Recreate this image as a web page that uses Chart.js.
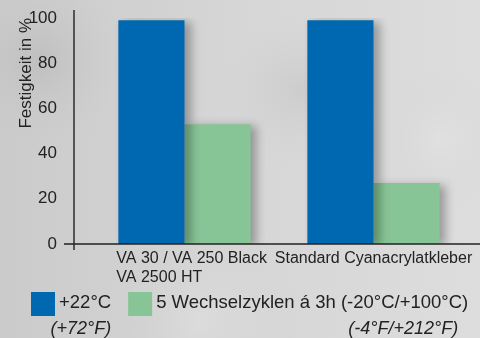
<!DOCTYPE html>
<html>
<head>
<meta charset="utf-8">
<script src="https://cdn.jsdelivr.net/npm/chart.js@4/dist/chart.umd.min.js"></script>
<style>
  html, body { margin: 0; padding: 0; background: #d3d3d3; }
  #wrap { width: 480px; height: 338px; position: relative; }
</style>
</head>
<body>
<div id="wrap"><canvas id="festigkeitChart"></canvas></div>
<script>
// Daten
var categories = [['VA 30 / VA 250 Black', 'VA 2500 HT'], 'Standard Cyanacrylatkleber'];
var seriesNames = ['+22°C', '5 Wechselzyklen á 3h (-20°C/+100°C)'];
var seriesNotes = ['(+72°F)', '(-4°F/+212°F)'];
var raumtemperatur = [99, 99];
var wechselzyklen = [53, 27];
var yTicks = [0, 20, 40, 60, 80, 100];
var colors = ['#0067b1', '#88c596'];

var FONT = '"Liberation Sans", Arial, Helvetica, sans-serif';

// Hintergrund (Beton-Look, grob)
var bgPlugin = {
    id: 'bg',
    beforeDraw: function (chart) {
        var c = chart.ctx, w = chart.width, h = chart.height;
        c.save();
        var g = c.createLinearGradient(0, 0, w, 0);
        g.addColorStop(0, '#cbcbcb');
        g.addColorStop(0.5, '#d6d6d6');
        g.addColorStop(1, '#dddddd');
        c.fillStyle = g;
        c.fillRect(0, 0, w, h);
        var spots = [[40, 60, 90, 'rgba(150,150,150,0.25)'], [300, 90, 80, 'rgba(160,160,160,0.2)'], [200, 320, 110, 'rgba(235,235,235,0.35)'], [440, 140, 70, 'rgba(235,235,235,0.3)']];
        spots.forEach(function (s) {
            var r = c.createRadialGradient(s[0], s[1], 0, s[0], s[1], s[2]);
            r.addColorStop(0, s[3]);
            r.addColorStop(1, 'rgba(200,200,200,0)');
            c.fillStyle = r;
            c.fillRect(0, 0, w, h);
        });
        c.restore();
    }
};

// Schatten hinter den Balken
var shadowPlugin = {
    id: 'shadow',
    beforeDatasetsDraw: function (chart) {
        var c = chart.ctx;
        c.save();
        c.shadowColor = 'rgba(0,0,0,0.3)';
        c.shadowBlur = 9;
        c.shadowOffsetX = 6;
        c.shadowOffsetY = 2;
    },
    afterDatasetsDraw: function (chart) {
        chart.ctx.restore();
    }
};

// Achsenlinien, x-Beschriftung und Legende
var decoPlugin = {
    id: 'deco',
    afterDraw: function (chart) {
        var c = chart.ctx;
        var x = chart.scales.x, y = chart.scales.y;
        var axisX = chart.chartArea.left - 16;
        var zeroY = y.getPixelForValue(0);
        c.save();
        c.strokeStyle = '#222';
        c.lineWidth = 1.4;
        c.beginPath();
        c.moveTo(axisX, y.getPixelForValue(100) - 8);
        c.lineTo(axisX, zeroY + 6);
        c.moveTo(axisX - 10, zeroY);
        c.lineTo(chart.width, zeroY);
        c.stroke();

        // x labels
        c.fillStyle = '#222';
        c.font = '16px ' + FONT;
        c.textBaseline = 'middle';
        var meta = chart.getDatasetMeta(0);
        categories.forEach(function (lab, i) {
            var lines = Array.isArray(lab) ? lab : [lab];
            var cx = x.getPixelForValue(i);
            if (lines.length > 1) {
                c.textAlign = 'left';
                var lx = meta.data[i].x - meta.data[i].width / 2 - 2;
                lines.forEach(function (t, j) { c.fillText(t, lx, zeroY + 15 + j * 19); });
            } else {
                c.textAlign = 'center';
                c.fillText(lines[0], cx, zeroY + 15);
            }
        });

        // Legende
        var lx = 31, boxY = 292, box = 24;
        c.textAlign = 'left';
        seriesNames.forEach(function (name, i) {
            c.fillStyle = colors[i];
            c.fillRect(lx, boxY, box, box);
            c.fillStyle = '#222';
            c.font = '18.5px ' + FONT;
            var tx = lx + box + 4;
            c.textAlign = 'left';
            c.fillText(name, tx, boxY + 11);
            var tw = c.measureText(name).width;
            c.font = 'italic 18px ' + FONT;
            c.textAlign = 'right';
            c.fillText(seriesNotes[i], tx + tw - (i ? 10 : 0), boxY + 37);
            lx = tx + tw + 17;
        });
        c.restore();
    }
};

var ctx = document.getElementById('festigkeitChart').getContext('2d');
var festigkeitChart = new Chart(ctx, {
    type: 'bar',
    data: {
        labels: categories,
        datasets: [{
            label: seriesNames[0],
            data: raumtemperatur,
            backgroundColor: colors[0]
        }, {
            label: seriesNames[1],
            data: wechselzyklen,
            backgroundColor: colors[1]
        }]
    },
    options: {
        responsive: true,
        maintainAspectRatio: false,
        animation: false,
        devicePixelRatio: 1,
        layout: { padding: { left: 0, right: 12, top: 18, bottom: 94 } },
        datasets: { bar: { categoryPercentage: 0.7, barPercentage: 1.0 } },
        plugins: { legend: { display: false }, tooltip: { enabled: false } },
        scales: {
            x: { display: false },
            y: {
                min: 0,
                max: 100,
                afterFit: function (scale) {
                    scale.width = 90;
                    scale.paddingTop = 0;
                    scale.paddingBottom = 0;
                },
                afterBuildTicks: function (scale) {
                    scale.ticks = yTicks.map(function (v) { return { value: v }; });
                },
                grid: { display: false, drawTicks: false },
                border: { display: false },
                ticks: { color: '#222', padding: 33, font: { size: 17, family: FONT } },
                title: {
                    display: true,
                    text: 'Festigkeit in %',
                    align: 'end',
                    color: '#222',
                    padding: { top: 16, bottom: 0 },
                    font: { size: 17, family: FONT }
                }
            }
        }
    },
    plugins: [bgPlugin, shadowPlugin, decoPlugin]
});
</script>
</body>
</html>
